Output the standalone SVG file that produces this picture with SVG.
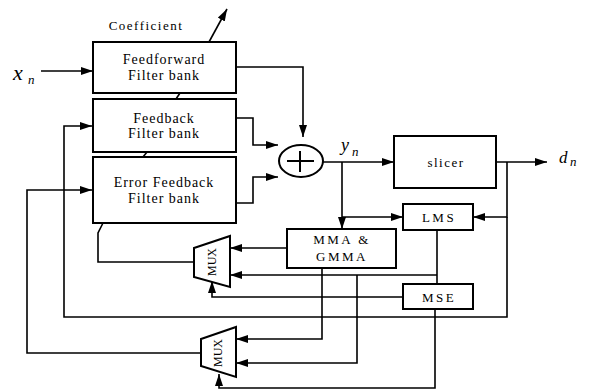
<svg xmlns="http://www.w3.org/2000/svg" width="589" height="390" viewBox="0 0 589 390">
<style>
.box{fill:#fff;stroke:#000;stroke-width:2}
.ln{fill:none;stroke:#000;stroke-width:1.6}
.arr{marker-end:url(#ah)}
.t{font-family:"Liberation Serif","Times New Roman",serif;font-size:14px;letter-spacing:1px;text-anchor:middle;fill:#000}
.s{font-size:13px;letter-spacing:2.5px}
.v{font-family:"Liberation Serif","Times New Roman",serif;font-style:italic;fill:#000}
</style>
<defs>
<marker id="ah" markerUnits="userSpaceOnUse" markerWidth="12" markerHeight="8" refX="12" refY="4" orient="auto">
<path d="M0,0 L12,4 L0,8 Z" fill="#000"/>
</marker>
</defs>
<rect width="589" height="390" fill="#fff"/>
<g id="connectors">
<path class="ln arr" d="M41,71 H93"/>
<path class="ln arr" d="M209,42 L227,9"/>
<path class="ln arr" d="M236,67 H303 V137"/>
<path class="ln arr" d="M236,118 H253 V145 H278"/>
<path class="ln arr" d="M236,203 H253 V177 H278"/>
<path class="ln arr" d="M323,162 H394"/>
<path class="ln arr" d="M496,162 H547"/>
<path class="ln arr" d="M342,162 V217 H403"/>
<path class="ln arr" d="M342,217 V229"/>
<path class="ln arr" d="M507,162 V217 H473"/>
<path class="ln arr" d="M507,217 V317 H64 V126 H92"/>
<path class="ln arr" d="M287,248 H230"/>
<path class="ln" d="M437,230 V284"/>
<path class="ln arr" d="M437,275 H230"/>
<path class="ln arr" d="M403,297 H212 V281"/>
<path class="ln arr" d="M322,268 V339 H236"/>
<path class="ln arr" d="M357,275 V363 H236"/>
<path class="ln arr" d="M435,309 V388 H219 V374"/>
<path class="ln" d="M194,262 H98 V233 L103,223"/>
<path class="ln arr" d="M201,353 H27 V190 H92"/>
<path class="ln" d="M176,99 L180,93"/>
<path class="ln" d="M143,157 L147,152"/>
</g>
<g id="coefficient"><text class="t" x="146" y="30" style="font-size:13px;letter-spacing:1.5px">Coefficient</text></g>
<g id="xn"><text class="v" x="13" y="80" font-size="22">x</text><text class="v" x="28" y="84" font-size="13">n</text></g>
<g id="yn"><text class="v" x="341" y="151" font-size="18">y</text><text class="v" x="352" y="156" font-size="13">n</text></g>
<g id="dn"><text class="v" x="559" y="163" font-size="17">d</text><text class="v" x="570" y="166" font-size="13">n</text></g>
<g id="feedforward">
<rect class="box" x="93" y="42" width="143" height="51"/>
<text class="t" x="164" y="64">Feedforward</text>
<text class="t" x="164" y="80">Filter bank</text>
</g>
<g id="feedback">
<rect class="box" x="93" y="99" width="143" height="53"/>
<text class="t" x="164" y="123">Feedback</text>
<text class="t" x="164" y="138">Filter bank</text>
</g>
<g id="error-feedback">
<rect class="box" x="93" y="157" width="143" height="66"/>
<text class="t" x="164" y="187">Error Feedback</text>
<text class="t" x="164" y="203">Filter bank</text>
</g>
<g id="sum">
<ellipse class="box" cx="301" cy="161" rx="22" ry="16"/>
<path class="ln" d="M287,161 H314 M300,151 V172" style="stroke-width:2"/>
</g>
<g id="slicer">
<rect class="box" x="394" y="136" width="102" height="52"/>
<text class="t" x="446" y="167" style="font-size:13px;letter-spacing:1.5px">slicer</text>
</g>
<g id="lms">
<rect class="box" x="403" y="204" width="70" height="26"/>
<text class="t s" x="439" y="222">LMS</text>
</g>
<g id="mse">
<rect class="box" x="403" y="284" width="70" height="25"/>
<text class="t s" x="439" y="302">MSE</text>
</g>
<g id="mma">
<rect class="box" x="287" y="229" width="109" height="39"/>
<text class="t s" x="342" y="244">MMA &amp;</text>
<text class="t s" x="342" y="261">GMMA</text>
</g>
<g id="mux1">
<path class="box" d="M194,248 L230,236 L230,287 L194,277 Z"/>
<text class="t" transform="translate(216,262) rotate(-90)" style="font-size:12px;letter-spacing:0">MUX</text>
</g>
<g id="mux2">
<path class="box" d="M201,339 L236,327 L236,377 L201,366 Z"/>
<text class="t" transform="translate(222,353) rotate(-90)" style="font-size:12px;letter-spacing:0">MUX</text>
</g>
</svg>
